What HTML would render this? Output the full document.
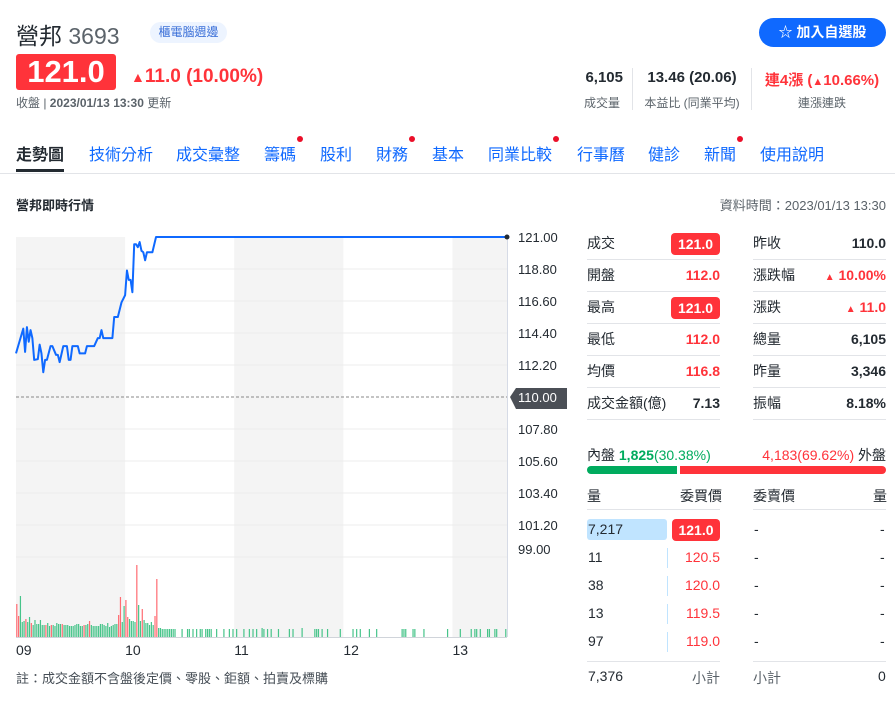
<!DOCTYPE html>
<html><head><meta charset="utf-8"><style>
*{margin:0;padding:0;box-sizing:border-box}
body{width:895px;height:703px;background:#fff;position:relative;overflow:hidden;font-family:"Liberation Sans","Noto Sans CJK TC",sans-serif;color:#232a31}
.a{position:absolute;white-space:nowrap}
.r{color:#ff333a}.g{color:#00ab5e}
.tab{position:absolute;top:141px;font-size:16px;color:#0f69ff}
.dot{position:absolute;width:6px;height:6px;border-radius:3px;background:#eb0f29;top:-5px;right:-7px}
.row{position:absolute;height:32px;border-bottom:1px solid #e2e4e8;font-size:14px}
.row span{position:absolute;top:0;line-height:31px}
.pill{position:absolute;background:#ff333a;color:#fff;border-radius:4px;font-weight:bold;text-align:center}
.ob{position:absolute;font-size:14px}
</style></head><body>
<div class="a" style="left:16px;top:17px;font-size:23px">營邦 <span style="color:#5b636a">3693</span></div>
<div class="a" style="left:150px;top:22px;width:77px;height:21px;border-radius:11px;background:#edf4ff;color:#3a6fd8;font-size:12px;text-align:center;line-height:21px">櫃電腦週邊</div>
<div class="a" style="left:759px;top:18px;width:127px;height:29px;border-radius:15px;background:#0f69ff;color:#fff;font-size:14px;font-weight:bold;line-height:29px;text-align:center">☆ 加入自選股</div>
<div class="a" style="left:16px;top:54px;width:100px;height:36px;background:#ff333a;border-radius:3px;color:#fff;font-size:31px;font-weight:bold;text-align:center;line-height:36px">121.0</div>
<div class="a r" style="left:131px;top:66px;font-size:19px;font-weight:bold"><span style="font-size:14px">▲</span>11.0 (10.00%)</div>
<div class="a" style="left:16px;top:94px;font-size:12px;color:#5b636a">收盤 | <b>2023/01/13 13:30</b> 更新</div>
<div class="a" style="left:560px;top:69px;width:63px;text-align:right;font-size:15px;font-weight:bold">6,105</div>
<div class="a" style="left:560px;top:94px;width:60px;text-align:right;font-size:12px;color:#5b636a">成交量</div>
<div class="a" style="left:632px;top:68px;width:1px;height:42px;background:#e2e4e8"></div>
<div class="a" style="left:633px;top:69px;width:118px;text-align:center;font-size:15px;font-weight:bold">13.46 (20.06)</div>
<div class="a" style="left:633px;top:94px;width:118px;text-align:center;font-size:12px;color:#5b636a">本益比 (同業平均)</div>
<div class="a" style="left:751px;top:68px;width:1px;height:42px;background:#e2e4e8"></div>
<div class="a r" style="left:752px;top:69px;width:140px;text-align:center;font-size:15px;font-weight:bold">連4漲 (<span style="font-size:11px">▲</span>10.66%)</div>
<div class="a" style="left:752px;top:94px;width:140px;text-align:center;font-size:12px;color:#5b636a">連漲連跌</div>

<div class="tab" style="left:16px;color:#232a31;font-weight:bold">走勢圖</div>
<div class="a" style="left:16px;top:169px;width:48px;height:3px;background:#232a31"></div>
<div class="tab" style="left:89px">技術分析</div>
<div class="tab" style="left:176px">成交彙整</div>
<div class="tab" style="left:264px">籌碼<i class="dot"></i></div>
<div class="tab" style="left:320px">股利</div>
<div class="tab" style="left:376px">財務<i class="dot"></i></div>
<div class="tab" style="left:432px">基本</div>
<div class="tab" style="left:488px">同業比較<i class="dot"></i></div>
<div class="tab" style="left:577px">行事曆</div>
<div class="tab" style="left:648px">健診</div>
<div class="tab" style="left:704px">新聞<i class="dot"></i></div>
<div class="tab" style="left:760px">使用說明</div>
<div class="a" style="left:0;top:173px;width:895px;height:1px;background:#e2e4e8"></div>

<div class="a" style="left:16px;top:195px;font-size:13px;font-weight:bold">營邦即時行情</div>
<div class="a" style="right:9px;top:195px;font-size:13px;color:#5b636a">資料時間：2023/01/13 13:30</div>

<svg id="chart" class="a" style="left:0;top:0" width="580" height="703"></svg>
<div class="a" style="left:16px;top:668px;font-size:13px;color:#464e56">註：成交金額不含盤後定價、零股、鉅額、拍賣及標購</div>

<div class="row" style="left:587px;top:228px;width:133px"><span>成交</span></div><div class="pill" style="left:671px;top:233px;width:49px;height:22px;line-height:22px;font-size:14px">121.0</div>
<div class="row" style="left:587px;top:260px;width:133px"><span>開盤</span><span class="r" style="right:0;font-weight:bold">112.0</span></div>
<div class="row" style="left:587px;top:292px;width:133px"><span>最高</span></div><div class="pill" style="left:671px;top:297px;width:49px;height:22px;line-height:22px;font-size:14px">121.0</div>
<div class="row" style="left:587px;top:324px;width:133px"><span>最低</span><span class="r" style="right:0;font-weight:bold">112.0</span></div>
<div class="row" style="left:587px;top:356px;width:133px"><span>均價</span><span class="r" style="right:0;font-weight:bold">116.8</span></div>
<div class="row" style="left:587px;top:388px;width:133px"><span>成交金額(億)</span><span style="right:0;font-weight:bold">7.13</span></div>
<div class="row" style="left:753px;top:228px;width:133px"><span>昨收</span><span style="right:0;font-weight:bold">110.0</span></div>
<div class="row" style="left:753px;top:260px;width:133px"><span>漲跌幅</span><span class="r" style="right:0;font-weight:bold"><small style="font-size:10px">▲</small> 10.00%</span></div>
<div class="row" style="left:753px;top:292px;width:133px"><span>漲跌</span><span class="r" style="right:0;font-weight:bold"><small style="font-size:10px">▲</small> 11.0</span></div>
<div class="row" style="left:753px;top:324px;width:133px"><span>總量</span><span style="right:0;font-weight:bold">6,105</span></div>
<div class="row" style="left:753px;top:356px;width:133px"><span>昨量</span><span style="right:0;font-weight:bold">3,346</span></div>
<div class="row" style="left:753px;top:388px;width:133px"><span>振幅</span><span style="right:0;font-weight:bold">8.18%</span></div>

<div class="a" style="left:587px;top:445px;font-size:14px">內盤 <b class="g">1,825</b><span class="g">(30.38%)</span></div>
<div class="a" style="right:9px;top:445px;font-size:14px"><span class="r">4,183(69.62%)</span> 外盤</div>
<div class="a" style="left:587px;top:466px;width:90px;height:8px;background:#00ab5e;border-radius:4px 0 0 4px"></div>
<div class="a" style="left:680px;top:466px;width:206px;height:8px;background:#ff333a;border-radius:0 4px 4px 0"></div>

<div class="ob" style="left:587px;top:486px">量</div>
<div class="ob" style="left:680px;top:486px">委買價</div>
<div class="ob" style="left:753px;top:486px">委賣價</div>
<div class="ob" style="left:873px;top:486px">量</div>
<div class="a" style="left:587px;top:509px;width:133px;height:1px;background:#e2e4e8"></div>
<div class="a" style="left:753px;top:509px;width:133px;height:1px;background:#e2e4e8"></div>
<div class="a" style="left:587px;top:519px;width:80px;height:21px;background:#c0e4ff;border-radius:3px"></div>
<div class="pill" style="left:672px;top:519px;width:48px;height:22px;line-height:22px;font-size:14px">121.0</div>
<div class="ob" style="left:588px;top:521px">7,217</div>
<div class="ob" style="left:588px;top:549px">11</div>
<div class="ob" style="left:588px;top:577px">38</div>
<div class="ob" style="left:588px;top:605px">13</div>
<div class="ob" style="left:588px;top:633px">97</div>
<div class="a" style="left:667px;top:548px;width:1px;height:20px;background:#c0e4ff"></div>
<div class="a" style="left:667px;top:576px;width:1px;height:20px;background:#c0e4ff"></div>
<div class="a" style="left:667px;top:604px;width:1px;height:20px;background:#c0e4ff"></div>
<div class="a" style="left:667px;top:632px;width:1px;height:20px;background:#c0e4ff"></div>
<div class="ob r" style="left:680px;top:549px;width:40px;text-align:right">120.5</div>
<div class="ob r" style="left:680px;top:577px;width:40px;text-align:right">120.0</div>
<div class="ob r" style="left:680px;top:605px;width:40px;text-align:right">119.5</div>
<div class="ob r" style="left:680px;top:633px;width:40px;text-align:right">119.0</div>
<div class="ob" style="left:754px;top:521px">-</div><div class="ob" style="left:880px;top:521px">-</div>
<div class="ob" style="left:754px;top:549px">-</div><div class="ob" style="left:880px;top:549px">-</div>
<div class="ob" style="left:754px;top:577px">-</div><div class="ob" style="left:880px;top:577px">-</div>
<div class="ob" style="left:754px;top:605px">-</div><div class="ob" style="left:880px;top:605px">-</div>
<div class="ob" style="left:754px;top:633px">-</div><div class="ob" style="left:880px;top:633px">-</div>
<div class="a" style="left:587px;top:661px;width:133px;height:1px;background:#e2e4e8"></div>
<div class="a" style="left:753px;top:661px;width:133px;height:1px;background:#e2e4e8"></div>
<div class="ob" style="left:588px;top:668px">7,376</div>
<div class="ob" style="left:692px;top:668px;color:#5b636a">小計</div>
<div class="ob" style="left:753px;top:668px;color:#5b636a">小計</div>
<div class="ob" style="left:878px;top:668px">0</div>

<script>
const priceTimes=[0,4,5,6,7,8,9,10,12,13,14,15,16,17,19,20,22,23,24,26,28,29,30,31,34,35,38,39,43,45,46,47,48,53,54,56,58,60,61,62,63,64,65,66,67,68,69,70,71,72,75,77,270];
const prices=[113.0,114.7,113.1,114.8,113.8,114.6,114.05,112.55,112.6,113.6,113.0,111.7,112.55,112.55,113.5,113.5,112.9,112.9,112.4,113.5,113.5,112.55,112.55,113.5,113.5,113.0,113.0,113.5,113.5,114.05,114.05,114.6,114.05,114.05,115.5,115.5,116.5,117.0,118.7,118.05,118.05,117.2,120.5,120.5,120.3,120.65,120.05,119.95,119.4,119.95,119.95,121.0,121.0];
const priceTicks=[121.00,118.80,116.60,114.40,112.20,110.00,107.80,105.60,103.40,101.20,99.00];
const hourLabels=["09","10","11","12","13"];
const volEarly=[33,21,41,15,16,18,15,20,14,12,17,13,13,17,12,12,12,14,11,12,12,11,14,13,13,13,12,12,12,11,11,11,12,13,13,11,11,12,12,13,16,12,11,11,11,11,13,13,12,11,14,10,11,12,13,13,22,40,15,31,37,20,18,16,16,15,72,32,16,28,17,14,14,12,15,12,21,58,9,9,8,8,8,8,8,8,8,8];
const volEarlyUp=[0,0,1,1,1,0,1,1,0,1,1,1,1,1,1,1,0,1,1,0,1,1,1,1,1,0,1,1,1,1,1,1,1,1,1,1,1,0,1,1,0,1,1,1,1,1,1,1,1,1,1,1,1,1,1,1,0,0,1,1,0,0,1,1,1,1,0,1,1,0,1,1,1,1,1,1,0,0,1,1,1,1,1,1,1,1,1,1];
const volLateTimes=[91,94,95,97,99,101,102,104,105,106,107,110,114,117,119,121,125,128,130,132,135,136,138,140,144,150,152,157,164,165,166,168,171,178,185,187,189,194,198,212,213,214,218,219,224,237,244,250,252,253,255,259,260,263,264,269];
const volLate=[8,8,8,8,8,8,8,8,8,8,8,8,8,8,8,8,8,8,8,8,9,8,8,8,8,8,8,9,8,8,8,8,8,8,8,8,8,8,8,8,8,8,8,8,8,8,8,8,8,8,8,8,8,8,8,8];
const svg=document.getElementById('chart');const NS='http://www.w3.org/2000/svg';
const X0=16,X1=507,TOTAL=270;
const x=t=>X0+t*(X1-X0)/TOTAL;
const y=p=>237+(121-p)*160/11;
const yv=v=>637-v;
function mk(tag,attrs,parent){const e=document.createElementNS(NS,tag);for(const k in attrs)e.setAttribute(k,attrs[k]);(parent||svg).appendChild(e);return e;}
for(let h=0;h<5;h+=2){const b=mk('rect',{x:x(h*60),y:237,width:Math.min(x((h+1)*60),X1)-x(h*60),height:400,fill:'#f4f4f4'});

}
priceTicks.forEach((p,i)=>{if(p!==110&&p!==121){const g=mk('line',{x1:X0,x2:X1,y1:y(p),y2:y(p),stroke:'#ececec','stroke-width':1});

}
if(p!==110){const ty=Math.min(y(p),549);const t=mk('text',{x:518,y:ty+5,'font-size':13,fill:'#232a31'});t.textContent=p.toFixed(2);

}});
const ref=mk('line',{x1:X0,x2:X1,y1:y(110),y2:y(110),stroke:'#888','stroke-dasharray':'3,2','stroke-width':1});


const tag=mk('path',{d:`M510 ${y(110)} L516 ${y(110)-9} H567 V${y(110)+12} H516 Z`,fill:'#4b4f56'});


const tt=mk('text',{x:518,y:y(110)+5,'font-size':13,fill:'#fff'});tt.textContent='110.00';


volEarly.forEach((v,i)=>{const r=mk('rect',{x:x(i)+0.2,y:yv(v),width:1.2,height:v,fill:volEarlyUp[i]?'#47c48a':'#ff6b72'});

});
volLateTimes.forEach((t,i)=>{const r=mk('rect',{x:x(t),y:yv(volLate[i]),width:1.2,height:volLate[i],fill:'#47c48a'});

});
const ax=mk('line',{x1:X0,x2:X1,y1:637.5,y2:637.5,stroke:'#d0d4da'});


const ay=mk('line',{x1:X1+0.5,x2:X1+0.5,y1:237,y2:637,stroke:'#d6dbe6'});


hourLabels.forEach((l,i)=>{const t=mk('text',{x:x(i*60),y:655,'font-size':14,fill:'#232a31'});t.textContent=l;

});
const line=mk('polyline',{points:priceTimes.map((t,i)=>x(t)+','+y(prices[i])).join(' '),fill:'none',stroke:'#0f69ff','stroke-width':2,'stroke-linejoin':'round'});


const d=mk('circle',{cx:X1,cy:y(prices[prices.length-1]),r:2.5,fill:'#232a31'});


</script>
</body></html>
